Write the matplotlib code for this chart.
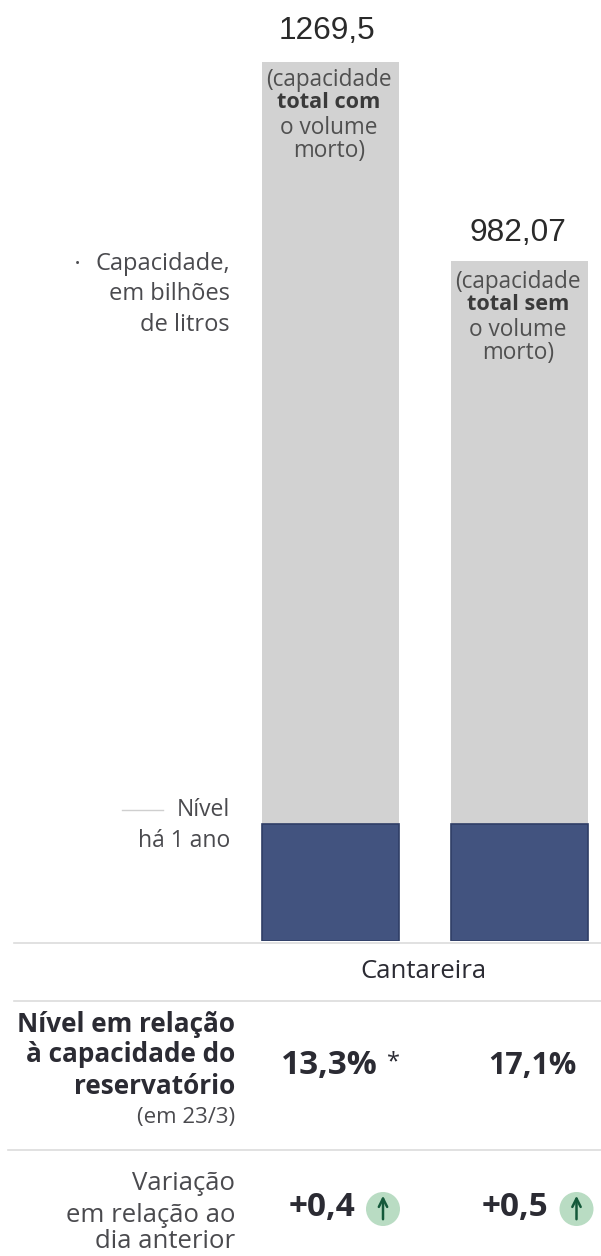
import matplotlib
matplotlib.use("Agg")
import matplotlib.pyplot as plt
from matplotlib.patches import Circle

# data
capacity = [1269.5, 982.07]
level_year_ago = [168.8, 168.8]
capacity_labels = ["1269,5", "982,07"]
capacity_notes = [["(capacidade", "total com", "o volume", "morto)"],
                  ["(capacidade", "total sem", "o volume", "morto)"]]
level_pct = ["13,3%", "17,1%"]
variation = ["+0,4", "+0,5"]
system_name = "Cantareira"

W, H = 601, 1256
GREY = "#d2d2d2"
BLUE = "#42537f"
DARK = "#2b2b33"
TXT = "#4a4a4e"
FONT = "Open Sans"

fig = plt.figure(figsize=(W / 100, H / 100), dpi=100, facecolor="white")

# bar axes: x in data units, y in billions of litres
base_px = 941
scale = 0.6925  # px per billion litres
ax = fig.add_axes([0, 1 - base_px / H, 1, base_px / H])
ax.set_xlim(0, W)
ax.set_ylim(0, base_px / scale)
ax.axis("off")
bar_x = [330.5, 519.5]
ax.bar(bar_x, capacity, width=137, color=GREY, linewidth=0)
ax.bar(bar_x, level_year_ago, width=137, color=BLUE, edgecolor="#2f3e66", linewidth=1.2)

# overlay in pixel coordinates for the text and rules
ov = fig.add_axes([0, 0, 1, 1], facecolor="none")
ov.set_xlim(0, W)
ov.set_ylim(H, 0)
ov.axis("off")

# values over the bars
for x, y, s in zip([327, 518], [31, 233], capacity_labels):
    ov.text(x, y, s, ha="center", va="center", fontsize=22.8, color="#2a2a2a",
            family="Liberation Sans")

# notes inside the bars
for x, y0, lines in zip([329, 518], [80, 282], capacity_notes):
    for i, (line, dy) in enumerate(zip(lines, [0, 23, 48, 71])):
        ov.text(x, y0 + dy, line, ha="center", va="center",
                fontsize=15.6 if i == 1 else 16.3,
                color="#505050" if i != 1 else "#3a3a3a",
                fontweight="bold" if i == 1 else "normal", family=FONT)

# left notes
ov.text(77, 265, "•", ha="center", va="center", fontsize=10, color=TXT, family=FONT)
for y, s in zip([264, 294, 325], ["Capacidade,", "em bilhões", "de litros"]):
    ov.text(230, y, s, ha="right", va="center", fontsize=17, color=TXT, family=FONT)
ov.text(230, 810, "Nível", ha="right", va="center", fontsize=16.5, color=TXT, family=FONT)
ov.text(230, 841, "há 1 ano", ha="right", va="center", fontsize=16.5, color=TXT, family=FONT)
ov.plot([122, 163], [810, 810], color="#cfcfcf", lw=1)

# rules
for y, x0 in zip([943, 1001, 1150], [14, 14, 8]):
    ov.plot([x0, W], [y, y], color="#dcdcdc", lw=1.2)

ov.text(423, 972, system_name, ha="center", va="center", fontsize=18.5, color=DARK,
        family=FONT, fontweight="medium")

# level row
for y, s in zip([1025, 1055, 1086], ["Nível em relação", "à capacidade do", "reservatório"]):
    ov.text(235, y, s, ha="right", va="center", fontsize=18.8, color=DARK,
            fontweight="bold", family=FONT)
ov.text(235, 1117, "(em 23/3)", ha="right", va="center", fontsize=16, color=TXT, family=FONT)

ov.text(281, 1066, level_pct[0], ha="left", va="center", fontsize=24, color=DARK,
        fontweight="bold", family=FONT)
ov.text(393, 1062, "*", ha="center", va="center", fontsize=17, color=DARK, family=FONT)
ov.text(577, 1066, level_pct[1], ha="right", va="center", fontsize=22, color=DARK,
        fontweight="bold", family=FONT)

# variation row
for y, s in zip([1183, 1215, 1242], ["Variação", "em relação ao", "dia anterior"]):
    ov.text(235, y, s, ha="right", va="center", fontsize=18.5, color=TXT, family=FONT)

for tx, cx, s in zip([355, 548], [383, 576.5], variation):
    ov.text(tx, 1207, s, ha="right", va="center", fontsize=24, color=DARK,
            fontweight="bold", family=FONT)
    ov.add_patch(Circle((cx, 1209), 17, facecolor="#b9dcc3", edgecolor="none"))
    ov.annotate("", xy=(cx, 1193), xytext=(cx, 1222),
                arrowprops=dict(arrowstyle="->", color="#14593a", lw=1.8, mutation_scale=15))

fig.savefig("out.png", dpi=100, facecolor="white")
